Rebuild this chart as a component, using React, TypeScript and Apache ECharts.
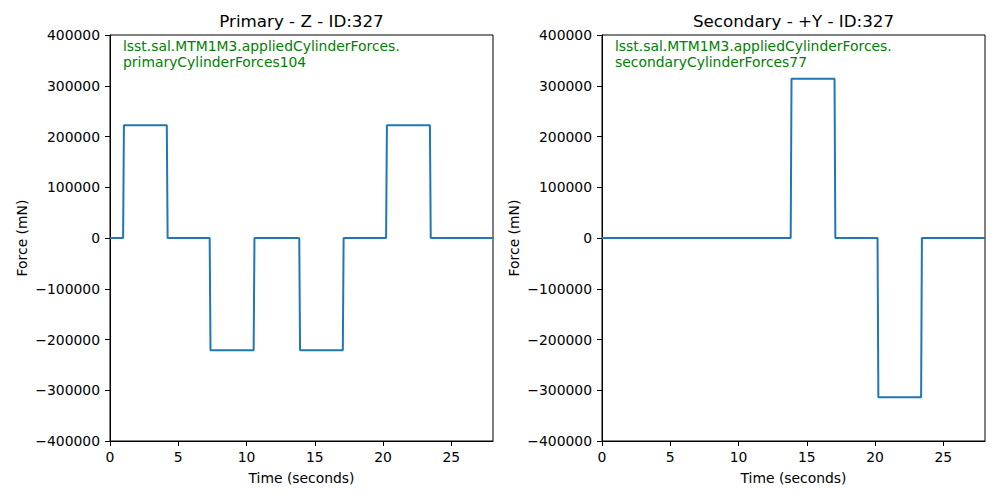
import React, { useEffect, useRef } from "react";
import * as echarts from "echarts";

const primaryTimes = [0, 0.96, 1.02, 4.16, 4.22, 7.3, 7.36, 10.52, 10.58, 13.86, 13.92, 17.05, 17.11, 20.22, 20.28, 23.43, 23.49, 28.05];
const primaryValues = [0, 0, 222000, 222000, 0, 0, -221000, -221000, 0, 0, -221000, -221000, 0, 0, 222000, 222000, 0, 0];
const secondaryTimes = [0, 13.82, 13.88, 17.03, 17.09, 20.18, 20.24, 23.37, 23.43, 28.05];
const secondaryValues = [0, 0, 314000, 314000, 0, 0, -314000, -314000, 0, 0];

const titles = ["Primary - Z - ID:327", "Secondary - +Y - ID:327"];
const annotations = [
  "lsst.sal.MTM1M3.appliedCylinderForces.\nprimaryCylinderForces104",
  "lsst.sal.MTM1M3.appliedCylinderForces.\nsecondaryCylinderForces77",
];
const xTicks = [0, 5, 10, 15, 20, 25];
const X_MAX = 28.05;
const Y_MIN = -400000;
const Y_MAX = 400000;
const Y_STEP = 100000;

const FONT = "DejaVu Sans";

export default function App() {
  const ref = useRef<HTMLDivElement>(null);
  useEffect(() => {
    if (!ref.current) return;
    const chart = echarts.init(ref.current, null, { renderer: "svg" });
    const grids = [
      { left: 110, top: 35, width: 383, height: 406 },
      { left: 602, top: 35, width: 383, height: 406 },
    ];
    const xAxes = grids.map((_, i) => ({
      type: "value",
      gridIndex: i,
      min: 0,
      max: X_MAX,
      interval: 5,
      splitLine: { show: false },
      axisLine: { show: true, onZero: false, lineStyle: { color: "#000", width: 1 } },
      axisTick: { show: true, length: 5, customValues: xTicks, lineStyle: { color: "#000", width: 1 } },
      axisLabel: { customValues: xTicks, margin: 9, color: "#000", fontFamily: FONT, fontSize: 13.9 },
    }));
    const yAxes = grids.map((_, i) => ({
      type: "value",
      gridIndex: i,
      min: Y_MIN,
      max: Y_MAX,
      interval: Y_STEP,
      splitLine: { show: false },
      axisLine: { show: true, onZero: false, lineStyle: { color: "#000", width: 1 } },
      axisTick: { show: true, length: 5, lineStyle: { color: "#000", width: 1 } },
      axisLabel: {
        margin: 10,
        color: "#000",
        fontFamily: FONT,
        fontSize: 13.9,
        formatter: (v: number) => (v < 0 ? "\u2212" + Math.abs(v) : String(v)),
      },
    }));
    const mk = (t: number[], v: number[]) => t.map((x, i) => [x, v[i]]);
    const series = [
      { type: "line", xAxisIndex: 0, yAxisIndex: 0, data: mk(primaryTimes, primaryValues) },
      { type: "line", xAxisIndex: 1, yAxisIndex: 1, data: mk(secondaryTimes, secondaryValues) },
    ].map((s) => ({
      ...s,
      showSymbol: false,
      symbol: "none",
      lineStyle: { color: "#1f77b4", width: 2 },
      clip: true,
    }));
    const centers = grids.map((g) => g.left + g.width / 2);
    const graphic: any[] = [];
    grids.forEach((g, i) => {
      graphic.push({
        type: "text",
        x: centers[i],
        y: 21,
        style: { text: titles[i], align: "center", verticalAlign: "middle", font: `16.7px ${FONT}`, fill: "#000" },
      });
      graphic.push({
        type: "text",
        x: g.left + 13,
        y: 38,
        style: {
          text: annotations[i],
          align: "left",
          verticalAlign: "top",
          font: `13.9px ${FONT}`,
          lineHeight: 16,
          fill: "#008000",
        },
      });
      graphic.push({
        type: "text",
        x: centers[i],
        y: 478,
        style: { text: "Time (seconds)", align: "center", verticalAlign: "middle", font: `13.9px ${FONT}`, fill: "#000" },
      });
      graphic.push({
        type: "text",
        x: g.left - 88,
        y: g.top + g.height / 2,
        rotation: Math.PI / 2,
        style: { text: "Force (mN)", align: "center", verticalAlign: "middle", font: `13.9px ${FONT}`, fill: "#000" },
      });
    });
    chart.setOption({
      animation: false,
      backgroundColor: "#fff",
      grid: grids.map((g) => ({ ...g, show: true, borderColor: "#000", borderWidth: 1, backgroundColor: "transparent" })),
      xAxis: xAxes,
      yAxis: yAxes,
      series,
      graphic,
    });
    return () => chart.dispose();
  }, []);
  return <div ref={ref} style={{ position: "fixed", left: 0, top: 0, width: 1000, height: 500 }} />;
}
